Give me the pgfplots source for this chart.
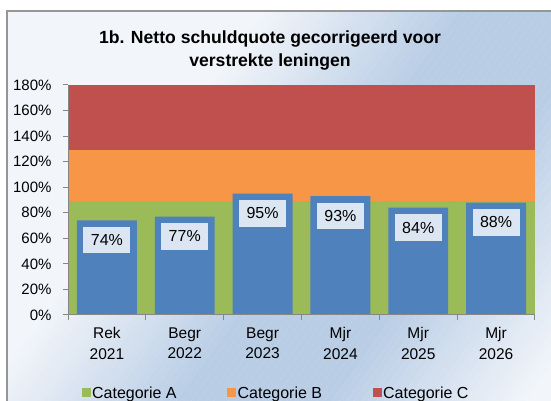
\documentclass[border=0pt]{standalone}
\usepackage{fontspec}
\setmainfont{Liberation Sans}
\usepackage{pgfplots}
\pgfplotsset{compat=1.18}

\definecolor{barblue}{HTML}{4F81BD}
\definecolor{catA}{HTML}{9BBB59}
\definecolor{catB}{HTML}{F79646}
\definecolor{catC}{HTML}{C0504D}
\definecolor{lblfill}{HTML}{DCE6F2}
\definecolor{bglight}{HTML}{F2F5FA}
\definecolor{bgblue}{HTML}{B9CDE5}
\definecolor{framegray}{HTML}{969696}
\definecolor{axisgray}{HTML}{868686}

\begin{document}
\begin{tikzpicture}[x=1pt,y=1pt]
\useasboundingbox (0,0) rectangle (551,401);
\clip (0,0) rectangle (551,401);
% chart area background: diagonal light-blue-light gradient, drawn as thin stripes
\begin{scope}
  \clip (7,-20) rectangle (700,390);
  \fill[bglight] (7,-20) rectangle (700,390);
  \foreach \d in {-450,-444,...,450} {
    \pgfmathsetmacro\t{max(0,min(100,(220-abs(\d))/1.6))}
    \fill[bgblue!\t!bglight] (395,200) ++(0.81*\d,-0.586*\d) ++(-586,-810)
      -- ++(4.86,-3.52) -- ++(1172,1620) -- ++(-4.86,3.52) -- cycle;
  }
\end{scope}
\draw[framegray, line width=2pt] (7,-20) -- (7,390) -- (600,390);
\coordinate (plotSW) at (68,86);

\begin{axis}[
    at={(plotSW)}, anchor=south west,
    scale only axis, width=467pt, height=230pt,
    xmin=-0.5, xmax=5.5, ymin=0, ymax=180,
    axis on top,
    axis x line*=bottom, axis y line*=left,
    axis line style={axisgray, line width=1pt},
    tick align=outside, major tick length=5pt,
    tick style={axisgray, line width=1pt},
    /pgf/number format/assume math mode=true,
    ytick={0,20,...,180},
    yticklabel={\pgfmathprintnumber{\tick}\%},
    y tick label style={font=\fontsize{15}{18}\selectfont, xshift=-8pt},
    xtick={-0.5,0.5,...,5.5}, xticklabels={},
    extra x ticks={0,1,2,3,4,5},
    extra x tick labels={Rek\\2021, Begr\\2022, Begr\\2023, Mjr\\2024, Mjr\\2025, Mjr\\2026},
    extra x tick style={major tick length=0pt, grid=none,
      tick label style={align=center, yshift=-9pt, font=\fontsize{15.5}{20.5}\selectfont}},
    legend style={at={(0.445,-0.339)}, anchor=center, draw=none, fill=none,
      legend columns=-1, font=\fontsize{16}{19}\selectfont,
      nodes={inner sep=1.5pt},
      /tikz/every even column/.append style={column sep=49pt}},
    legend image code/.code={\fill[#1] (0pt,-4.5pt) rectangle (9pt,4.5pt);},
  ]
  % background bands
  \addplot[draw=none, fill=catA] coordinates {(-0.5,89) (5.5,89)} \closedcycle;
  \addlegendentry{Categorie A}
  \addplot[draw=none, fill=catB] coordinates {(-0.5,89) (5.5,89) (5.5,129) (-0.5,129)} -- cycle;
  \addlegendentry{Categorie B}
  \addplot[draw=none, fill=catC] coordinates {(-0.5,129) (5.5,129) (5.5,180) (-0.5,180)} -- cycle;
  \addlegendentry{Categorie C}
  % netto schuldquote
  \addplot[ybar, bar width=0.77, fill=barblue, draw=none, forget plot,
    nodes near coords={\pgfmathprintnumber{\pgfplotspointmeta}\%},
    every node near coord/.append style={anchor=north, yshift=-6.5pt, fill=lblfill,
      text=black, font=\fontsize{16}{19}\selectfont, inner xsep=7.5pt, inner ysep=7.5pt}]
    coordinates {(0,74) (1,77) (2,95) (3,93) (4,84) (5,88)};
\end{axis}

\node[font=\bfseries\fontsize{17.6}{23}\selectfont, align=center] at (270,351)
  {1b. Netto schuldquote gecorrigeerd voor\\verstrekte leningen};
\end{tikzpicture}
\end{document}
